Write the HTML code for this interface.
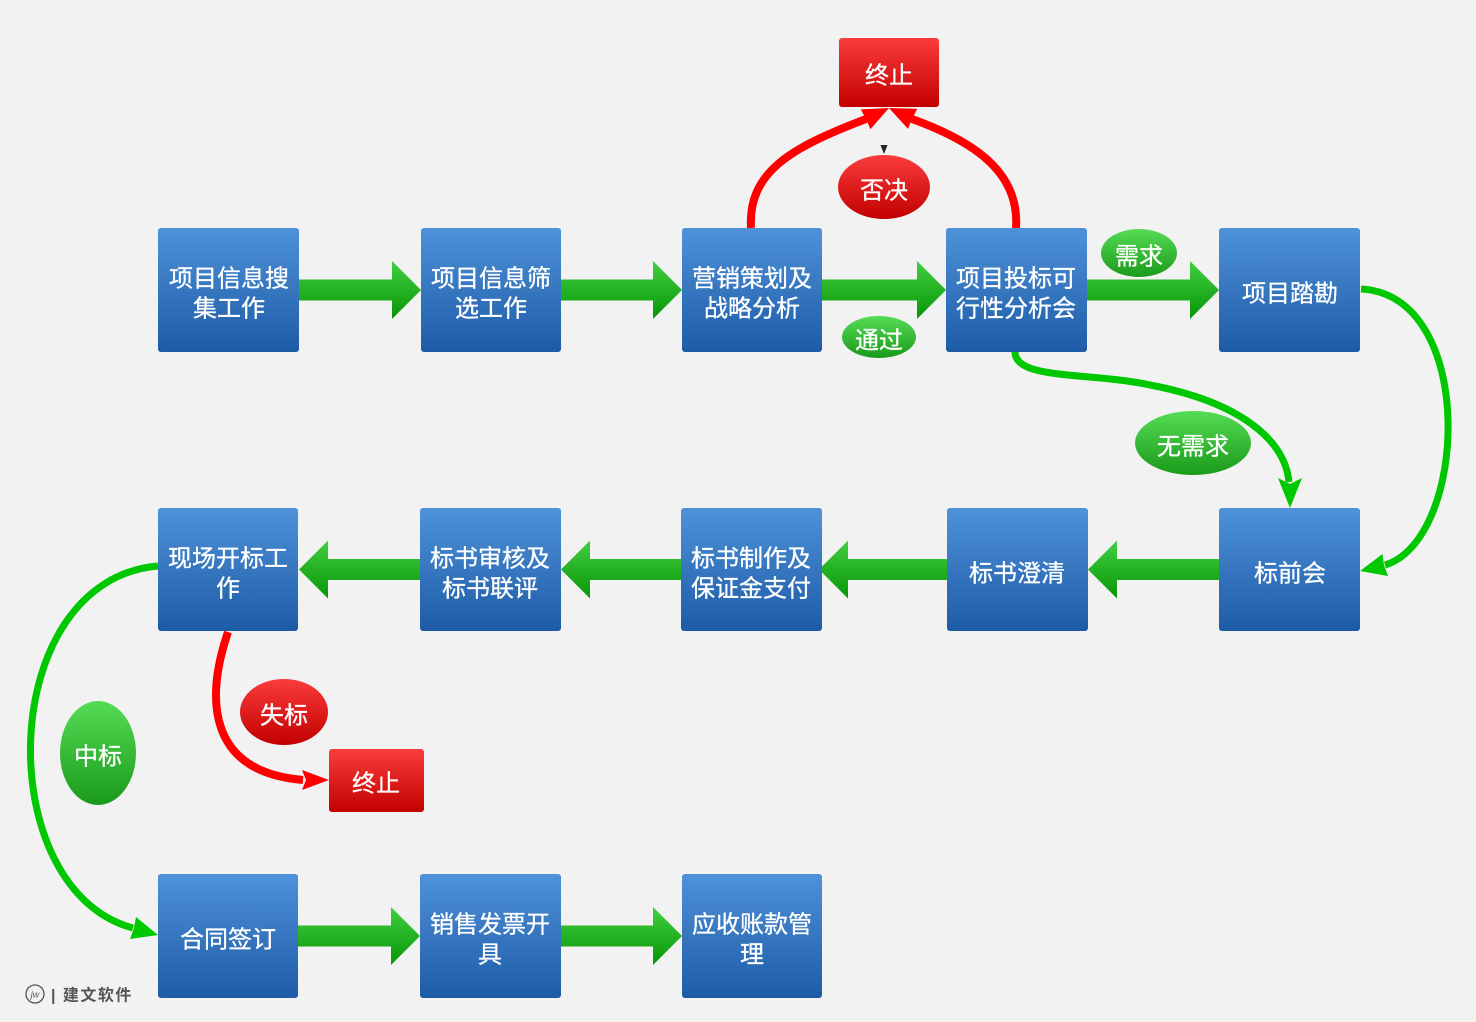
<!DOCTYPE html>
<html><head><meta charset="utf-8">
<style>
html,body{margin:0;padding:0;background:#f2f2f2;}
svg{display:block;}
text{font-family:"Liberation Sans","Noto Sans CJK SC",sans-serif;}
</style></head>
<body>
<svg width="1476" height="1022" viewBox="0 0 1476 1022" xmlns="http://www.w3.org/2000/svg">
<defs>
<linearGradient id="gb" x1="0" y1="0" x2="0" y2="1">
<stop offset="0" stop-color="#4f92d9"/><stop offset="1" stop-color="#1d5ba6"/>
</linearGradient>
<linearGradient id="gr" x1="0" y1="0" x2="0" y2="1">
<stop offset="0" stop-color="#fb3c3c"/><stop offset="1" stop-color="#c20000"/>
</linearGradient>
<linearGradient id="gg" x1="0" y1="0" x2="0" y2="1">
<stop offset="0" stop-color="#42cf42"/><stop offset="1" stop-color="#079607"/>
</linearGradient>
<linearGradient id="ge" x1="0" y1="0" x2="0" y2="1">
<stop offset="0" stop-color="#55dc55"/><stop offset="1" stop-color="#1a9a1a"/>
</linearGradient>
</defs>
<rect width="1476" height="1022" fill="#f2f2f2"/>

<g fill="url(#gg)">
<path d="M299,279.5 H392 V261 L421,290 L392,319 V300.5 H299 Z"/>
<path d="M561,279.5 H653 V261 L682,290 L653,319 V300.5 H561 Z"/>
<path d="M822,279.5 H917 V261 L946,290 L917,319 V300.5 H822 Z"/>
<path d="M1087,279.5 H1190 V261 L1219,290 L1190,319 V300.5 H1087 Z"/>
<path d="M1219,559 H1117 V540.5 L1088,569.5 L1117,598.5 V580 H1219 Z"/>
<path d="M947,559 H848 V540.5 L819,569.5 L848,598.5 V580 H947 Z"/>
<path d="M681,559 H590 V540.5 L561,569.5 L590,598.5 V580 H681 Z"/>
<path d="M420,559 H328 V540.5 L299,569.5 L328,598.5 V580 H420 Z"/>
<path d="M298,925.5 H391 V907 L420,936 L391,965 V946.5 H298 Z"/>
<path d="M561,925.5 H653 V907 L682,936 L653,965 V946.5 H561 Z"/>
</g>

<g fill="none" stroke-linecap="butt">
<path d="M751,228 C748,172 790,148 866,119" stroke="#ff0000" stroke-width="8"/>
<path d="M1016,228 C1020,170 970,140 912,119" stroke="#ff0000" stroke-width="8"/>
<path d="M1361,289 C1478,295 1468,540 1385,565" stroke="#00c800" stroke-width="7"/>
<path d="M1015,352 C1015,380 1090,372 1150,385 C1240,402 1285,440 1289,482" stroke="#00c800" stroke-width="7"/>
<path d="M158,566 C-5,580 -10,890 133,928" stroke="#00c800" stroke-width="7"/>
<path d="M228,632 C205,700 208,772 303,780" stroke="#ff0000" stroke-width="8"/>
</g>
<polygon points="889,108 870.4,129.2 866,119 860.8,109.4" fill="#ff0000"/>
<polygon points="889,108 908,128.9 912,119 917.2,108.9" fill="#ff0000"/>
<polygon points="1360,571 1388,576 1384,565 1382.5,554" fill="#00c800"/>
<polygon points="1290,508 1278,478 1290,484 1302,478" fill="#00c800"/>
<polygon points="158,935 130,939 134,928 136,917" fill="#00c800"/>
<polygon points="329,780 302,770 306,780 302,790" fill="#ff0000"/>
<polygon points="880.5,145 887.5,145 884,154" fill="#222"/>

<g fill="url(#gb)">
<rect x="158" y="228" width="141" height="124" rx="3"/>
<rect x="421" y="228" width="140" height="124" rx="3"/>
<rect x="682" y="228" width="140" height="124" rx="3"/>
<rect x="946" y="228" width="141" height="124" rx="3"/>
<rect x="1219" y="228" width="141" height="124" rx="3"/>
<rect x="158" y="508" width="140" height="123" rx="3"/>
<rect x="420" y="508" width="141" height="123" rx="3"/>
<rect x="681" y="508" width="141" height="123" rx="3"/>
<rect x="947" y="508" width="141" height="123" rx="3"/>
<rect x="1219" y="508" width="141" height="123" rx="3"/>
<rect x="158" y="874" width="140" height="124" rx="3"/>
<rect x="420" y="874" width="141" height="124" rx="3"/>
<rect x="682" y="874" width="140" height="124" rx="3"/>
</g>
<g fill="url(#gr)">
<rect x="839" y="38" width="100" height="69" rx="3"/>
<rect x="329" y="749" width="95" height="63" rx="3"/>
</g>
<ellipse cx="884" cy="187" rx="46" ry="32" fill="url(#gr)"/>
<ellipse cx="284" cy="712" rx="44" ry="33" fill="url(#gr)"/>
<ellipse cx="1139" cy="253" rx="38" ry="24" fill="url(#ge)"/>
<ellipse cx="879" cy="337" rx="37" ry="21" fill="url(#ge)"/>
<ellipse cx="1193" cy="443" rx="58" ry="32" fill="url(#ge)"/>
<ellipse cx="98" cy="753" rx="38" ry="52" fill="url(#ge)"/>

<g fill="#ffffff" stroke="#ffffff" stroke-width="0.3" font-size="24" text-anchor="middle" dominant-baseline="central">
<text x="229" y="279">项目信息搜</text><text x="229" y="309">集工作</text>
<text x="491" y="279">项目信息筛</text><text x="491" y="309">选工作</text>
<text x="752" y="279">营销策划及</text><text x="752" y="309">战略分析</text>
<text x="1016" y="279">项目投标可</text><text x="1016" y="309">行性分析会</text>
<text x="1290" y="294">项目踏勘</text>
<text x="228" y="559">现场开标工</text><text x="228" y="589">作</text>
<text x="490" y="559">标书审核及</text><text x="490" y="589">标书联评</text>
<text x="751" y="559">标书制作及</text><text x="751" y="589">保证金支付</text>
<text x="1017" y="574">标书澄清</text>
<text x="1290" y="574">标前会</text>
<text x="228" y="940">合同签订</text>
<text x="490" y="925">销售发票开</text><text x="490" y="955">具</text>
<text x="752" y="925">应收账款管</text><text x="752" y="955">理</text>
<text x="889" y="76">终止</text>
<text x="376" y="784">终止</text>
<text x="884" y="191">否决</text>
<text x="284" y="716">失标</text>
<text x="1139" y="257">需求</text>
<text x="879" y="341">通过</text>
<text x="1193" y="447">无需求</text>
<text x="98" y="757">中标</text>
</g>

<circle cx="35" cy="994" r="9" fill="none" stroke="#555" stroke-width="1.3"/>
<text x="35" y="997.5" font-size="9" font-style="italic" fill="#555" text-anchor="middle">jw</text>
<text x="51" y="1000.5" font-size="16" font-weight="bold" fill="#555" letter-spacing="1.5">| 建文软件</text>
</svg>
</body></html>
